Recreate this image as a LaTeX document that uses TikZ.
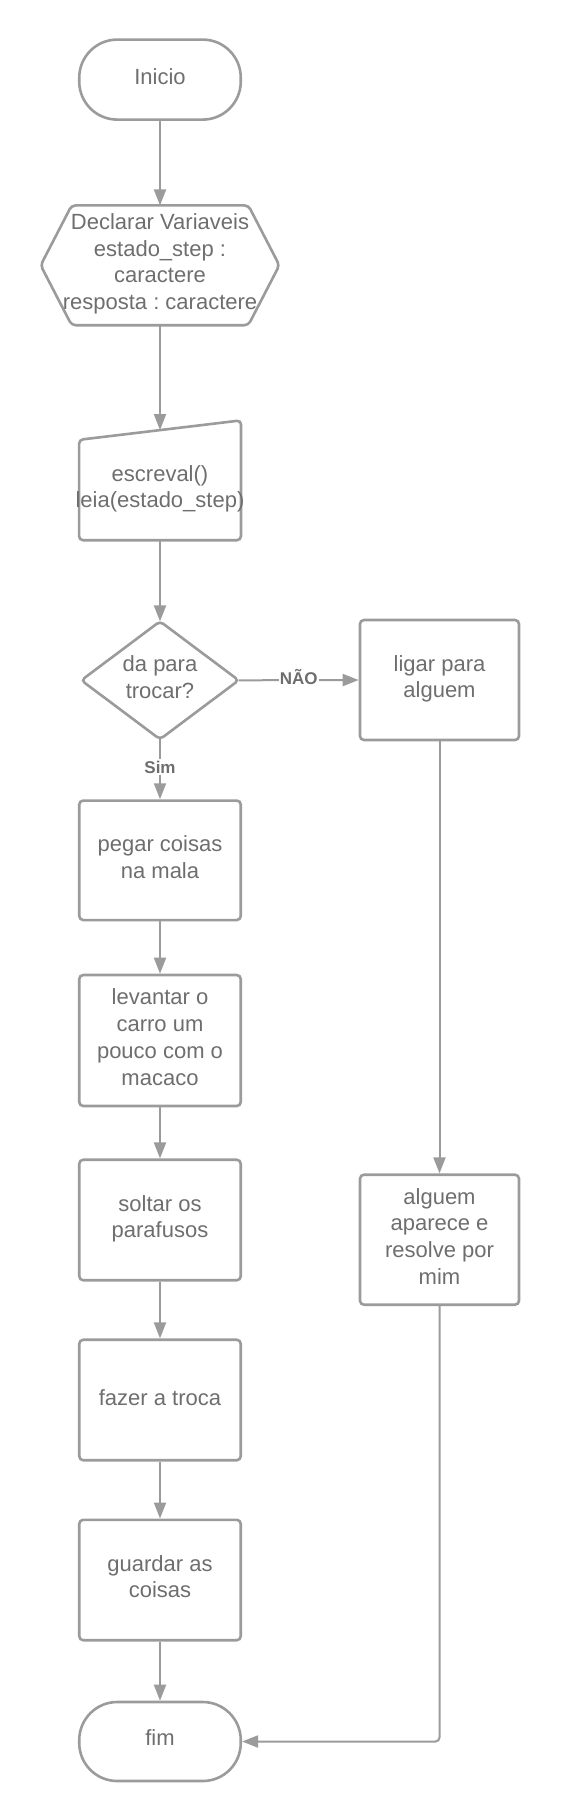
\documentclass[tikz,border=0pt]{standalone}
\usepackage{fontspec}
\setmainfont{Liberation Sans}
\frenchspacing
\usetikzlibrary{arrows.meta,calc}
\definecolor{txt}{HTML}{6E6E6E}
\definecolor{ln}{HTML}{9B9B9B}
\begin{document}
\begin{tikzpicture}[x=1pt,y=-1pt,
 shp/.style={draw=ln, line width=2.6pt, rounded corners=4pt},
 tx/.style={text=txt, align=center, font=\fontsize{22}{26.7}\selectfont, inner sep=0pt},
 box/.style={shp, tx, rectangle, minimum width=161.5pt, minimum height=120pt, text depth=7pt},
 term/.style={box, minimum height=80pt, rounded corners=38pt},
 ghost/.style={tx, rectangle},
 conn/.style={draw=ln, line width=2pt, -{Triangle[length=16pt,width=12pt]}},
 lab/.style={fill=white, text=txt, font=\bfseries\fontsize{17}{19}\selectfont, inner xsep=1pt, inner ysep=2pt, text height=12.2pt, text depth=0pt, yshift=2pt}
]
\useasboundingbox (0,0) rectangle (560,1820);

% start
\node[term] (start) at (160,79.6) {Inicio};

% declaration hexagon
\node[ghost, minimum width=238.3pt, minimum height=119.4pt] (decl) at (160,265.3) {};
\draw[shp] (decl.west) -- ($(decl.north west)+(31,0)$) -- ($(decl.north east)+(-31,0)$) -- (decl.east) -- ($(decl.south east)+(-31,0)$) -- ($(decl.south west)+(31,0)$) -- cycle;
\node[tx] (decltxt) at (160,263.7) {Declarar Variaveis\\estado\_step :\\caractere\\resposta : caractere};

% manual input
\node[ghost, minimum width=161.5pt, minimum height=119.4pt] (inp) at (160,480.3) {};
\draw[shp] (inp.south west) -- ($(inp.north west)+(0,19.4)$) -- (inp.north east) -- (inp.south east) -- cycle;
\coordinate (inptop) at ($(inp.north)+(0,9.7)$);
\node[tx] (inptxt) at (160,488.7) {escreval()\\leia(estado\_step)};

% decision
\node[ghost, minimum width=157pt, minimum height=117.5pt] (dec) at (160,680.3) {};
\draw[shp] (dec.north) -- (dec.east) -- (dec.south) -- (dec.west) -- cycle;
\node[tx] (dectxt) at (160,676.8) {da para\\trocar?};

% boxes
\node[box, minimum width=159pt] (ligar) at (439.5,680) {ligar para\\alguem};
\node[box, minimum height=119.5pt] (pegar) at (160,860.3) {pegar coisas\\na mala};
\node[box, minimum height=131pt] (levantar) at (160,1040.5) {levantar o\\carro um\\pouco com o\\macaco};
\node[box, minimum height=120.5pt] (soltar) at (160,1220) {soltar os\\parafusos};
\node[box, minimum height=120.5pt, text depth=4pt] (fazer) at (160,1400) {fazer a troca};
\node[box, minimum height=120.4pt] (guardar) at (160,1580) {guardar as\\coisas};
\node[term, minimum height=79pt] (fim) at (160,1741.5) {fim};
\node[box, minimum width=159pt, minimum height=130pt] (alguem) at (439.5,1239.7) {alguem\\aparece e\\resolve por\\mim};

% connectors
\draw[conn] (start.south) -- (decl.north);
\draw[conn] (decl.south) -- (inptop);
\draw[conn] (inp.south) -- (dec.north);
\draw[conn] (dec.east) -- node[lab] (nao) {NÃO} (ligar.west);
\draw[conn] (dec.south) -- node[lab] (sim) {Sim} (pegar.north);
\draw[conn] (pegar.south) -- (levantar.north);
\draw[conn] (levantar.south) -- (soltar.north);
\draw[conn] (soltar.south) -- (fazer.north);
\draw[conn] (fazer.south) -- (guardar.north);
\draw[conn] (guardar.south) -- (fim.north);
\draw[conn] (ligar.south) -- (alguem.north);
\draw[conn, rounded corners=4pt] (alguem.south) |- (fim.east);
\end{tikzpicture}
\end{document}
